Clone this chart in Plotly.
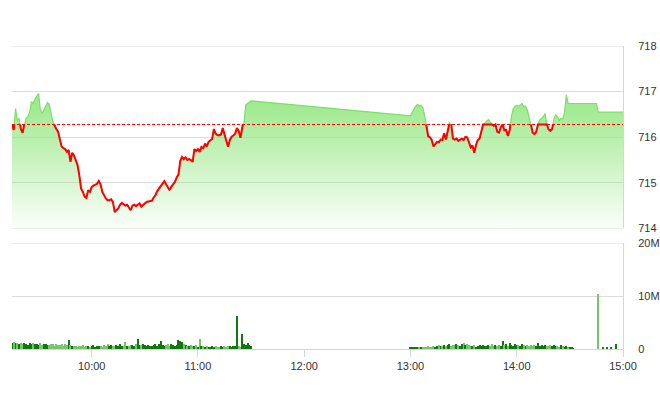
import pandas as pd
import plotly.graph_objects as go

DAY = "2024-01-01"
REF_PRICE = 716.28

# price per minute, morning session starting 09:15
PRICE_AM_START = "09:15"
PRICE_AM = [
    716.28, 716.16, 716.63, 716.38, 716.41, 716.18, 716.10, 716.30, 716.42, 716.45,
    716.56, 716.78, 716.74, 716.84, 716.89, 716.96, 716.60, 716.52, 716.60, 716.68,
    716.76, 716.72, 716.55, 716.35, 716.26, 716.18, 716.12, 715.95, 715.80, 715.76,
    715.74, 715.68, 715.72, 715.46, 715.66, 715.60, 715.50, 715.39, 715.17, 714.88,
    714.80, 714.70, 714.67, 714.84, 714.80, 714.91, 714.94, 714.97, 714.98, 715.04,
    714.97, 714.80, 714.71, 714.66, 714.62, 714.62, 714.64, 714.58, 714.36, 714.40,
    714.44, 714.52, 714.56, 714.53, 714.50, 714.52, 714.46, 714.40, 714.50, 714.52,
    714.49, 714.52, 714.55, 714.48, 714.52, 714.56, 714.58, 714.59, 714.60, 714.61,
    714.68, 714.73, 714.82, 714.88, 714.94, 715.00, 715.04, 714.97, 714.90, 714.84,
    714.92, 714.98, 715.02, 715.12, 715.18, 715.48, 715.57, 715.52, 715.56, 715.50,
    715.52, 715.50, 715.46, 715.74, 715.70, 715.74, 715.68, 715.79, 715.76, 715.86,
    715.80, 715.90, 715.94, 715.96, 716.18, 716.08, 716.05, 716.04, 716.06, 716.20,
    716.06, 715.92, 715.79, 715.94, 716.01, 716.04, 716.08, 716.20, 716.14, 715.99,
    716.27, 716.30, 716.71, 716.74, 716.78, 716.80,
]

# price per minute, afternoon session starting 13:00
PRICE_PM_START = "13:00"
PRICE_PM = [
    716.47, 716.56, 716.62, 716.68, 716.72, 716.68, 716.70, 716.64, 716.48, 716.25,
    716.02, 716.00, 715.94, 715.80, 715.85, 715.90, 715.89, 715.95, 715.94, 716.09,
    715.95, 716.10, 716.32, 716.28, 715.97, 715.95, 715.97, 715.92, 715.95, 715.97,
    715.94, 716.01, 716.00, 715.90, 715.78, 715.82, 715.66, 715.83, 715.94, 715.97,
    716.12, 716.28, 716.31, 716.36, 716.39, 716.33, 716.28, 716.25, 716.28, 716.12,
    716.10, 716.22, 716.28, 716.15, 716.16, 716.03, 716.15, 716.45, 716.62, 716.68,
    716.70, 716.68, 716.70, 716.74, 716.67, 716.68, 716.60, 716.45, 716.28, 716.10,
    716.07, 716.12, 716.28, 716.38, 716.41, 716.45, 716.52, 716.28, 716.17, 716.14,
    716.18, 716.40, 716.49, 716.45, 716.36, 716.41, 716.40, 716.55, 716.93, 716.74,
]

PRICE_CLOSE_TIMES = ["14:45", "14:46", "15:00"]
PRICE_CLOSE = [716.74, 716.55, 716.55]

# volume (millions) per minute
VOL_AM_START = "09:15"
VOL_AM = [
    1.2, 1.3, 1.1, 1.2, 1.0, 1.1, 0.9, 1.2, 1.0, 0.8, 1.1, 0.9, 1.2, 0.9, 1.0, 0.7, 1.1, 0.8, 1.0, 0.9, 0.7,
    0.8, 0.9, 1.0, 0.6, 0.9, 0.7, 0.8, 1.0, 0.6, 0.9, 0.7,
    1.7, 0.8,
    0.5, 0.6, 0.5, 0.4, 0.6, 0.5, 0.7, 0.4, 0.5, 0.6, 0.3, 0.5, 0.7, 0.4, 0.6, 0.5, 0.6,
    0.4, 0.7, 0.5, 0.9, 0.6, 0.8, 0.6, 0.5, 0.7, 0.5, 0.9, 0.6, 0.5,
    1.3,
    0.6, 0.5, 0.7, 0.8, 0.6, 0.9,
    1.9,
    0.8, 0.7, 1.0, 0.8, 0.6, 0.7, 0.5, 0.6, 0.7, 0.9, 0.6, 0.9,
    1.5,
    0.7, 0.5, 0.8, 1.0, 0.6, 0.9, 0.7, 0.6, 0.8,
    1.7, 1.6, 1.4, 0.9,
    0.7, 0.6, 0.5, 0.8, 0.6, 0.5, 0.7, 0.4,
    1.9,
    0.6, 0.5, 0.4, 0.5, 0.4, 0.4, 0.5, 0.4, 0.5, 0.4, 0.4, 0.5, 0.4, 0.5, 0.4, 0.5, 0.6, 0.4, 0.5, 0.6,
    6.2, 0.5, 0.4, 2.8,
    0.9, 0.7, 1.1, 0.8, 0.6,
]
VOL_PM_START = "13:00"
VOL_PM = [
    0.3, 0.2, 0.3, 0.3, 0.2, 0.3, 0.4, 0.3, 0.4, 0.3, 0.5, 0.3, 0.4, 0.6, 0.4,
    0.5, 0.7, 0.6, 0.5, 0.8, 0.6, 0.7, 0.9, 0.6, 0.8, 0.7, 0.9, 0.8, 0.6, 0.9,
    1.2, 0.7, 1.0,
    0.7, 0.6, 0.5, 0.7, 0.4, 0.6, 0.8, 0.5, 0.7, 0.6, 0.5, 0.8, 0.6,
    1.0, 0.6, 0.8, 0.5, 0.7, 0.6,
    1.5, 0.7, 0.9, 0.6, 1.1,
    0.8, 0.6, 0.9, 0.7, 0.8, 0.5, 0.9, 0.7, 0.6, 0.8, 0.5, 0.7, 0.6, 0.8, 0.5,
    1.1,
    0.6, 0.8, 0.5, 0.7, 0.6, 0.5, 0.8, 0.6, 0.7, 0.5, 0.6, 0.4, 0.7, 0.5, 0.4, 0.5, 0.3, 0.3, 0.2, 0.1,
]
VOL_LATE_TIMES = ["14:46", "14:49", "14:51", "14:53", "14:56"]
VOL_LATE = [10.4, 0.3, 0.4, 0.2, 1.0]

X_TICKS = ["10:00", "11:00", "12:00", "13:00", "14:00", "15:00"]
PRICE_TICKS = [714, 715, 716, 717, 718]
VOL_TICKS = [0, 10, 20]
VOL_TICK_TEXT = ["0", "10M", "20M"]
X_START, X_END = "09:15", "15:00"


def t(hm, offset=0):
    return pd.Timestamp(f"{DAY} {hm}") + pd.Timedelta(minutes=offset)


price_x = ([t(PRICE_AM_START, i) for i in range(len(PRICE_AM))]
           + [t(PRICE_PM_START, i) for i in range(len(PRICE_PM))]
           + [t(h) for h in PRICE_CLOSE_TIMES])
price_y = PRICE_AM + PRICE_PM + PRICE_CLOSE

# red line only where price is below the reference
red_x, red_y = [], []
for i in range(len(price_x)):
    if i > 0:
        y0, y1 = price_y[i - 1], price_y[i]
        if (y0 - REF_PRICE) * (y1 - REF_PRICE) < 0:
            frac = (REF_PRICE - y0) / (y1 - y0)
            xc = price_x[i - 1] + (price_x[i] - price_x[i - 1]) * frac
            red_x.append(xc)
            red_y.append(REF_PRICE)
            if y1 > REF_PRICE:
                red_x.append(xc)
                red_y.append(None)
    if price_y[i] <= REF_PRICE:
        red_x.append(price_x[i])
        red_y.append(price_y[i])

price_lookup = dict(zip(price_x, price_y))
vol_x = ([t(VOL_AM_START, i) for i in range(len(VOL_AM))]
         + [t(VOL_PM_START, i) for i in range(len(VOL_PM))]
         + [t(h) for h in VOL_LATE_TIMES])
vol_y = VOL_AM + VOL_PM + VOL_LATE
DARK, LIGHT = "rgb(16,120,16)", "rgb(120,196,110)"
vol_colors = []
for x in vol_x:
    p = price_lookup.get(x)
    prev = price_lookup.get(x - pd.Timedelta(minutes=1))
    if p is not None and prev is not None and p < prev:
        vol_colors.append(LIGHT)
    else:
        vol_colors.append(DARK)

font = dict(family="Arial, Liberation Sans, sans-serif", size=11, color="#333333")
axis_line = "#ccd6eb"
grid = "#dcdcdc"

fig = go.Figure()
fig.add_trace(go.Scatter(
    x=price_x, y=price_y, mode="lines",
    line=dict(color="rgb(125,222,105)", width=1.2),
    fill="tozeroy",
    fillgradient=dict(type="vertical", start=714, stop=717,
                      colorscale=[[0, "rgba(140,230,120,0.04)"],
                                  [1, "rgba(140,230,120,0.92)"]]),
    hoverinfo="skip", xaxis="x", yaxis="y",
))
fig.add_trace(go.Scatter(
    x=red_x, y=red_y, mode="lines", connectgaps=False,
    line=dict(color="#ff0000", width=2),
    hoverinfo="skip", xaxis="x", yaxis="y",
))
fig.add_trace(go.Bar(
    x=vol_x, y=vol_y, marker=dict(color=vol_colors, line=dict(width=0)),
    width=60000 * 0.6, hoverinfo="skip", xaxis="x2", yaxis="y2",
))

# grid lines on the panel edges (plotly skips grid lines that sit on the plot border)
for yv in (PRICE_TICKS[0], PRICE_TICKS[-1]):
    fig.add_shape(type="line", xref="x domain", yref="y", x0=0, x1=1, y0=yv, y1=yv,
                  layer="below", line=dict(color=grid, width=1))
fig.add_shape(type="line", xref="x2 domain", yref="y2", x0=0, x1=1,
              y0=VOL_TICKS[-1], y1=VOL_TICKS[-1],
              layer="below", line=dict(color=grid, width=1))

fig.add_shape(type="line", xref="x domain", yref="y", x0=0, x1=1,
              y0=REF_PRICE, y1=REF_PRICE,
              line=dict(color="#ff0000", width=1, dash="3px,2px"))

fig.update_layout(
    template="none",
    width=660, height=412,
    margin=dict(l=12, r=37, t=46, b=63, autoexpand=False),
    paper_bgcolor="white", plot_bgcolor="white",
    showlegend=False, font=font, bargap=0,
    xaxis=dict(domain=[0, 1], anchor="y", matches="x2", type="date",
               range=[t(X_START), t(X_END)], showticklabels=False,
               showgrid=False, zeroline=False, showline=False, ticks="",
               automargin=False),
    xaxis2=dict(domain=[0, 1], anchor="y2", type="date",
                range=[t(X_START), t(X_END)],
                tickvals=[t(h) for h in X_TICKS], ticktext=X_TICKS,
                showgrid=False, zeroline=False, showline=True,
                linecolor=axis_line, linewidth=1,
                ticks="outside", ticklen=7, tickcolor=axis_line, tickfont=font,
                automargin=False),
    yaxis=dict(domain=[0.3977, 1], range=[714, 718], side="right",
               tickvals=PRICE_TICKS, showgrid=True, gridcolor=grid, gridwidth=1,
               zeroline=False, showline=True, linecolor=axis_line, linewidth=1,
               ticks="", ticklabelstandoff=12, tickfont=font, automargin=False),
    yaxis2=dict(domain=[0, 0.3498], range=[0, 20], side="right",
                tickvals=VOL_TICKS, ticktext=VOL_TICK_TEXT,
                showgrid=True, gridcolor=grid, gridwidth=1,
                zeroline=False, showline=True, linecolor=axis_line, linewidth=1,
                ticks="", ticklabelstandoff=12, tickfont=font, automargin=False),
)

# remove the browser's default page margin so the 660x412 figure fills the window
fig.write_html(
    "out.html",
    config={"displayModeBar": False},
    post_script="document.body.style.margin='0';"
                "document.documentElement.style.overflow='hidden';",
)
